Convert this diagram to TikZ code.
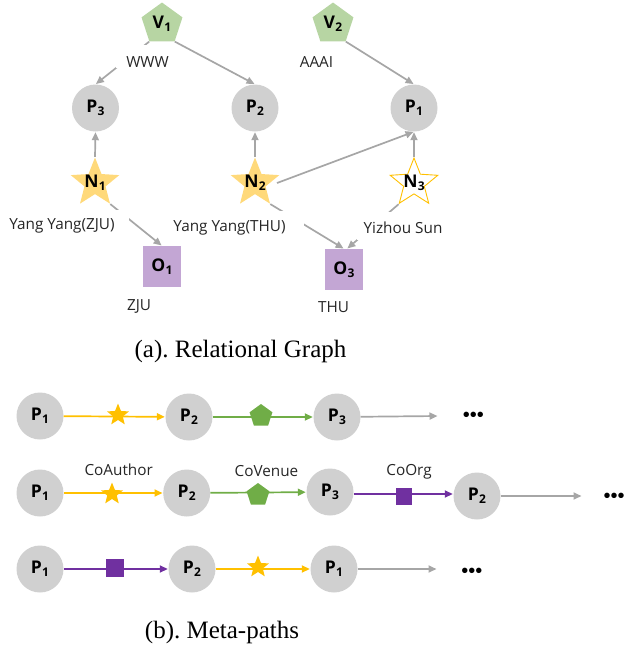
\documentclass[tikz,border=0pt]{standalone}
\usepackage{fontspec}
\setmainfont{Liberation Serif}
\newfontfamily\labfont{Open Sans}
\newfontfamily\bulfont{Liberation Sans}
\usetikzlibrary{arrows.meta,shapes.geometric}
\definecolor{pgray}{HTML}{D0D0D0}
\definecolor{lgray}{HTML}{A6A6A6}
\definecolor{ystar}{HTML}{FFD97A}
\definecolor{gpent}{HTML}{B7D5A3}
\definecolor{pbox}{HTML}{C3A6D4}
\definecolor{dyellow}{HTML}{FFC000}
\definecolor{dgreen}{HTML}{70AD47}
\definecolor{dpurple}{HTML}{7030A0}
\newcommand{\lab}[2]{{\labfont\fontsize{17.5}{17}\selectfont\bfseries #1\kern0.3pt\raisebox{-3pt}{\fontsize{12}{12}\selectfont #2}}}
\tikzset{
  x=1pt,y=-1pt,
  paperdot/.style={circle,fill=pgray,inner sep=0pt,minimum size=47pt,font=\labfont},
  venuepent/.style={regular polygon,regular polygon sides=5,fill=gpent,inner sep=0pt,minimum size=43pt},
  authorstar/.style={star,star points=5,star point ratio=2.3,fill=ystar,inner sep=0pt,minimum size=51pt},
  authoro/.style={star,star points=5,star point ratio=2.3,draw=dyellow,fill=white,line width=0.9pt,inner sep=0pt,minimum size=50pt},
  orgbox/.style={rectangle,fill=pbox,inner sep=0pt,minimum width=38pt,minimum height=41pt},
  txt/.style={font=\labfont\fontsize{15.3}{16}\selectfont,inner sep=0pt,text=black!85},
  captext/.style={font=\frenchspacing\fontsize{25}{26}\selectfont,inner sep=0pt},
  linkline/.style={line width=1.7pt,-{Triangle[length=8pt,width=7pt]},shorten >=0.5pt},
  glink/.style={linkline,draw=lgray},
  ylink/.style={linkline,draw=dyellow},
  vlink/.style={linkline,draw=dgreen},
  plink/.style={linkline,draw=dpurple},
  mstar/.style={star,star points=5,star point ratio=2.3,fill=dyellow,inner sep=0pt,minimum size=23pt},
  mpent/.style={regular polygon,regular polygon sides=5,fill=dgreen,inner sep=0pt,minimum size=24pt},
  msq/.style={rectangle,fill=dpurple,inner sep=0pt,minimum size=18pt},
  dotsrow/.style={font=\bulfont\fontsize{20}{20}\selectfont,inner sep=0pt},
}
\begin{document}
\begin{tikzpicture}
\useasboundingbox (0,0) rectangle (624,649);
% (a) graph nodes
\node[venuepent,label={center:\lab{V}{1}}] (v1) at (162,24) {};
\node[venuepent,label={center:\lab{V}{2}}] (v2) at (333,24) {};
\node[paperdot] (p3) at (95.5,108) {\lab{P}{3}};
\node[paperdot] (p2) at (255,108) {\lab{P}{2}};
\node[paperdot] (p1) at (414,108) {\lab{P}{1}};
\node[authorstar,label={center:\lab{N}{1}}] (n1) at (95,183) {};
\node[authorstar,label={center:\lab{N}{2}}] (n2) at (255,183) {};
\node[authoro,label={center:\lab{N}{3}}] (n3) at (414,183) {};
\node[orgbox] (o1) at (162,266.5) {\lab{O}{1}};
\node[orgbox] (o3) at (344,269.5) {\lab{O}{3}};
% (a) connectors, each hidden behind its label's clearing
\draw[glink] (v1.corner 3) -- (p3.north);
\fill[white] (116,45) rectangle (178,68);
\draw[glink] (v1.corner 4) -- (p2.north);
\draw[glink] (v2.corner 4) -- (p1.north);
\draw[glink] (n1.north) -- (p3.south);
\draw[glink] (n2.north) -- (p2.south);
\draw[glink] (n3.north) -- (p1.south);
\draw[glink] ([xshift=22pt]n2.center) -- (p1.south);
\draw[glink] (n2.outer point 4) -- (o3.north);
\fill[white] (155,211) rectangle (304,241);
\draw[glink] (n1.outer point 4) -- (o1.north);
\fill[white] (0,210) rectangle (129,238);
\draw[glink] (n3.outer point 3) -- ([xshift=3pt]o3.north);
\fill[white] (357,212) rectangle (449,240);
% (a) labels
\node[txt] (lwww) at (147.5,62) {WWW};
\node[txt] (laaai) at (316.5,62) {AAAI};
\node[txt] (lzju) at (62,226) {Yang Yang(ZJU)};
\node[txt] (lthu) at (229.5,228) {Yang Yang(THU)};
\node[txt] (lsun) at (403,228) {Yizhou Sun};
\node[txt] (ozju) at (139,306) {ZJU};
\node[txt] (othu) at (333.5,307) {THU};
\node[captext] (capa) at (240.5,351) {(a). Relational Graph};
% (b) row 1
\node[paperdot] (a1) at (40,416) {\lab{P}{1}};
\node[paperdot] (a2) at (189,417) {\lab{P}{2}};
\node[paperdot] (a3) at (337,417) {\lab{P}{3}};
\coordinate (ae) at (438,416);
\node[dotsrow] (ad) at (473.5,417) {•••};
\draw[ylink] (a1) -- (a2);
\draw[vlink] (a2) -- (a3);
\draw[glink] (a3) -- (ae);
\node[mstar] (as) at (118,415) {};
\node[mpent] (ap) at (261,416) {};
% (b) row 2
\node[paperdot] (b1) at (40,493) {\lab{P}{1}};
\node[paperdot] (b2) at (186.7,493) {\lab{P}{2}};
\node[paperdot] (b3) at (330,492) {\lab{P}{3}};
\node[paperdot] (b4) at (477,496) {\lab{P}{2}};
\coordinate (be) at (582,496);
\node[dotsrow] (bd) at (614,498) {•••};
\draw[ylink] (b1) -- (b2);
\draw[vlink] (b2) -- (b3);
\draw[plink] ([yshift=-2pt]b3.east) -- ([yshift=2pt]b4.west);
\draw[glink] (b4) -- (be);
\node[mstar] (bs) at (112,494) {};
\node[mpent] (bp) at (258,495) {};
\node[msq,minimum width=16pt,minimum height=17pt] (bq) at (404,496.5) {};
\node[txt] (lca) at (118.7,470) {CoAuthor};
\node[txt] (lcv) at (266.5,471) {CoVenue};
\node[txt] (lco) at (409,472) {CoOrg};
% (b) row 3
\node[paperdot] (c1) at (40,569) {\lab{P}{1}};
\node[paperdot] (c2) at (192,569) {\lab{P}{2}};
\node[paperdot] (c3) at (334,569) {\lab{P}{1}};
\coordinate (ce) at (437,569);
\node[dotsrow] (cd) at (472,573) {•••};
\draw[plink] (c1) -- (c2);
\draw[ylink] (c2) -- (c3);
\draw[glink] (c3) -- (ce);
\node[msq] (cq) at (115,568) {};
\node[mstar] (cs) at (258,567) {};
\node[captext] (capb) at (222,632) {(b). Meta-paths};
\end{tikzpicture}
\end{document}
